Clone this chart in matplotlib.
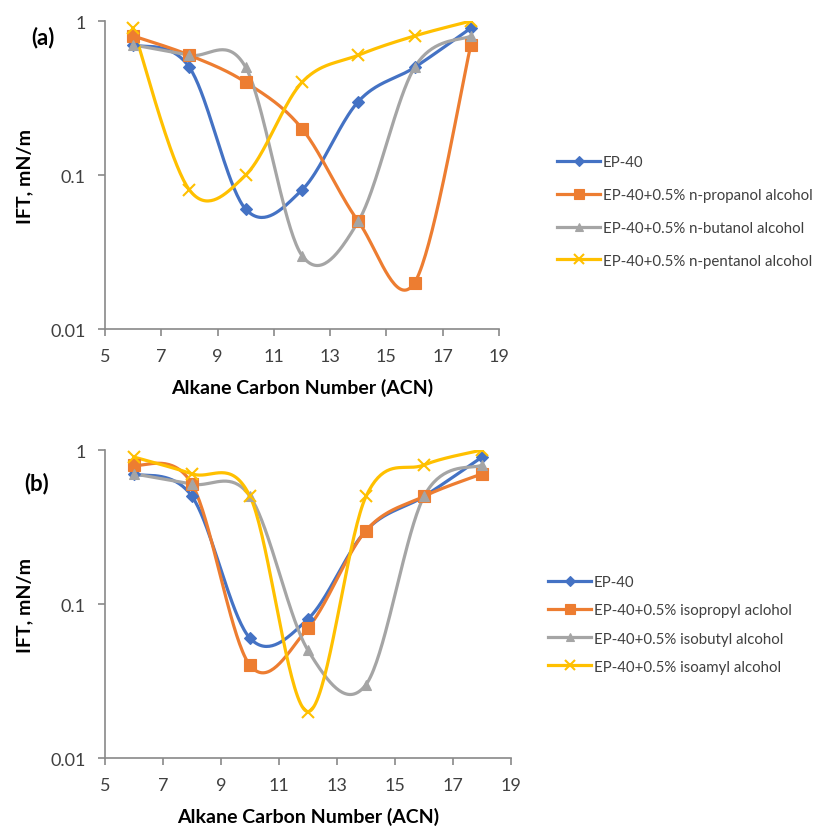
import numpy as np
import matplotlib.pyplot as plt
from matplotlib.lines import Line2D

plt.rcParams['font.family'] = ['Lato', 'DejaVu Sans']

# 烷烃碳数
acn = [6, 8, 10, 12, 14, 16, 18]

# (a) 正构醇
ep40_a = [0.7, 0.5, 0.06, 0.08, 0.3, 0.5, 0.9]
n_propanol = [0.8, 0.6, 0.4, 0.2, 0.05, 0.02, 0.7]
n_butanol = [0.7, 0.6, 0.5, 0.03, 0.05, 0.5, 0.8]
n_pentanol = [0.9, 0.08, 0.1, 0.4, 0.6, 0.8, 1.0]
labels_a = ['EP-40', 'EP-40+0.5% n-propanol alcohol',
            'EP-40+0.5% n-butanol alcohol', 'EP-40+0.5% n-pentanol alcohol']

# (b) 异构醇
ep40_b = [0.7, 0.5, 0.06, 0.08, 0.3, 0.5, 0.9]
isopropyl = [0.8, 0.6, 0.04, 0.07, 0.3, 0.5, 0.7]
isobutyl = [0.7, 0.6, 0.5, 0.05, 0.03, 0.5, 0.8]
isoamyl = [0.9, 0.7, 0.5, 0.02, 0.5, 0.8, 1.0]
labels_b = ['EP-40', 'EP-40+0.5% isopropyl aclohol',
            'EP-40+0.5% isobutyl alcohol', 'EP-40+0.5% isoamyl alcohol']

colors = ['#4472C4', '#ED7D31', '#A5A5A5', '#FFC000']
markers = ['D', 's', '^', 'x']
msizes = [6, 8, 7, 8]
axis_col = '#898989'


def smooth(ax, xs, ys, n=40):
    # Excel 式平滑曲线：在像素空间做 Bezier 插值
    bb = ax.get_window_extent()
    x0, x1 = ax.get_xlim()
    y0, y1 = np.log10(ax.get_ylim())
    sx = bb.width / (x1 - x0)
    sy = bb.height / (y1 - y0)
    p = np.column_stack([(np.array(xs) - x0) * sx, (np.log10(ys) - y0) * sy])
    out = []
    for i in range(len(p) - 1):
        pa = p[i - 1] if i > 0 else p[i]
        pd = p[i + 2] if i + 2 < len(p) else p[i + 1]
        c1 = p[i] + (p[i + 1] - pa) / 6
        c2 = p[i + 1] - (pd - p[i]) / 6
        t = np.linspace(0, 1, n)[:, None]
        seg = ((1 - t) ** 3 * p[i] + 3 * (1 - t) ** 2 * t * c1
               + 3 * (1 - t) * t ** 2 * c2 + t ** 3 * p[i + 1])
        out.append(seg if i == 0 else seg[1:])
    out = np.vstack(out)
    return out[:, 0] / sx + x0, 10 ** (out[:, 1] / sy + y0)


def fit_fontsize(text, width_px, base=10):
    # 按目标像素宽度求图例字号
    t = fig.text(0, 0, text, fontsize=base)
    w = t.get_window_extent(fig.canvas.get_renderer()).width
    t.remove()
    return base * width_px / w


def panel(ax, series, labels, tag, tag_xy, leg_x, leg_y, leg_w, pitch):
    ax.set_yscale('log')
    ax.set_xlim(5, 19)
    ax.set_ylim(0.01, 1)
    for ys, c, m, ms in zip(series, colors, markers, msizes):
        sx, sy = smooth(ax, acn, ys)
        ax.plot(sx, sy, color=c, lw=2.3, zorder=2)
        ax.plot(acn, ys, ls='none', marker=m, color=c, ms=ms,
                mew=1.5 if m == 'x' else 0.8, zorder=3)
    ax.set_xticks([5, 7, 9, 11, 13, 15, 17, 19])
    ax.set_xticklabels(['5', '7', '9', '11', '13', '15', '17', '19'])
    ax.set_yticks([0.01, 0.1, 1])
    ax.set_yticklabels(['0.01', '0.1', '1'])
    ax.yaxis.set_minor_locator(plt.NullLocator())
    for s in ['top', 'right']:
        ax.spines[s].set_visible(False)
    for s in ['left', 'bottom']:
        ax.spines[s].set_color(axis_col)
        ax.spines[s].set_linewidth(1.2)
    ax.tick_params(colors=axis_col, labelcolor='#404040', labelsize=13,
                   length=5, width=1.2)
    ax.tick_params(axis='x', pad=9)
    ax.tick_params(axis='y', pad=9)
    ax.set_xlabel('Alkane Carbon Number (ACN)', fontsize=14,
                  fontweight='bold', labelpad=10)
    ax.set_ylabel('IFT, mN/m', fontsize=14, fontweight='bold', labelpad=12)
    fig.text(tag_xy[0], tag_xy[1], tag, fontsize=16, fontweight='bold',
             va='center')
    handles = [Line2D([], [], color=c, lw=2.3, marker=m, ms=ms * 0.85,
                      mew=1.5 if m == 'x' else 0.8)
               for c, m, ms in zip(colors, markers, msizes)]
    fs = fit_fontsize(labels[1], leg_w)
    fs_px = fs * 100 / 72
    fig.legend(handles, labels, loc='center left',
               bbox_to_anchor=(leg_x, leg_y),
               frameon=False, fontsize=fs,
               labelspacing=(pitch - 0.95 * fs_px) / fs_px,
               handlelength=43 / fs_px, handletextpad=3 / fs_px,
               borderpad=0, borderaxespad=0, labelcolor='#404040')


fig = plt.figure(figsize=(8.17, 8.28), dpi=100)
ax_a = fig.add_axes([0.1285, 0.6014, 0.4823, 0.372])
ax_b = fig.add_axes([0.1285, 0.0833, 0.497, 0.372])

panel(ax_a, [ep40_a, n_propanol, n_butanol, n_pentanol], labels_a,
      '(a)', (0.038, 0.955), 557 / 817, 1 - 212.5 / 828, 210, 33)
panel(ax_b, [ep40_b, isopropyl, isobutyl, isoamyl], labels_b,
      '(b)', (0.030, 0.416), 548 / 817, 1 - 625.5 / 828, 198, 28.3)

fig.savefig('out.png', dpi=100)
